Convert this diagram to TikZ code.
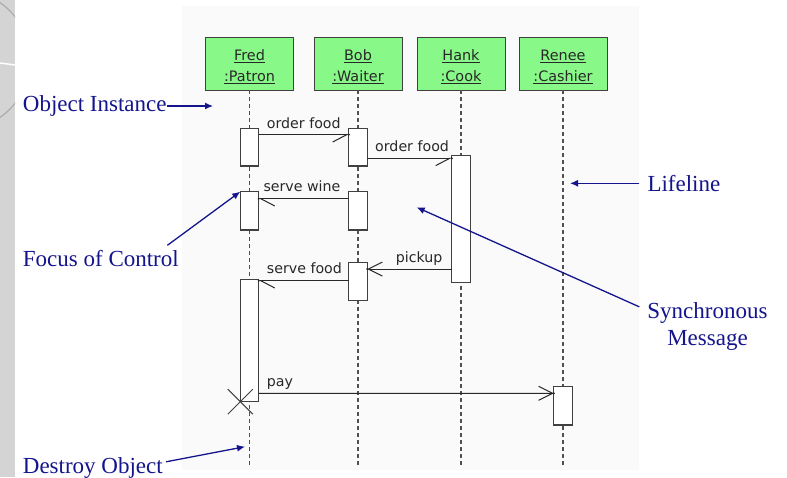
\documentclass[tikz,border=0pt]{standalone}
\usepackage{fontspec}
\setmainfont{Liberation Serif}
\newfontfamily\dv{DejaVu Sans}
\usetikzlibrary{arrows.meta}
\definecolor{navy}{RGB}{20,20,140}
\definecolor{objgreen}{RGB}{136,248,136}
\definecolor{edgec}{RGB}{64,64,64}
\definecolor{lifec}{RGB}{80,80,80}
\definecolor{panelc}{RGB}{250,250,250}
\definecolor{stripc}{RGB}{212,212,212}
\definecolor{ink}{RGB}{40,40,40}
\begin{document}
\begin{tikzpicture}[x=1pt,y=-1pt,
  objbox/.style={draw=edgec, fill=objgreen, line width=1pt, minimum width=88pt, minimum height=52.7pt, inner sep=0pt, outer sep=0pt},
  objtxt/.style={font=\dv\fontsize{14.4}{17}\selectfont, text=ink, anchor=base, inner sep=0pt},
  msgtxt/.style={font=\dv\fontsize{14.2}{17}\selectfont, text=ink, anchor=base west, inner sep=0pt},
  act/.style={draw=edgec, fill=white, line width=1.1pt, minimum width=18.5pt, inner sep=0pt, outer sep=0pt},
  life/.style={draw=lifec, line width=1.2pt, dash pattern=on 4pt off 3pt},
  msg/.style={draw=ink, line width=1pt},
  syncR/.style={msg, -{Straight Barb[harpoon,swap,length=14pt,width=14.6pt,line width=1pt]}},
  syncL/.style={msg, -{Straight Barb[harpoon,length=14pt,width=14.6pt,line width=1pt]}},
  asyn/.style={msg, -{Straight Barb[length=14pt,width=14pt,line width=1pt]}},
  callout/.style={font=\fontsize{23}{27}\selectfont, text=navy, inner sep=0pt},
  call/.style={draw=navy, line width=1.3pt, -{Latex[length=8pt,width=7pt]}}
]
\useasboundingbox (0,0) rectangle (787,477);
% slide decoration
\fill[stripc] (0,0) rectangle (15,477);
\begin{scope}
  \clip (0,0) rectangle (15,477);
  \draw[gray!65, line width=1.2pt] (-40,60) circle (70pt);
  \draw[white, line width=1.5pt] (0,63) -- (15,65);
\end{scope}
% diagram panel
\fill[panelc] (181.5,5.5) rectangle (639,470);

% object boxes
\node[objbox] (fred)  at (249.5,63.7) {};
\node[objbox] (bob)   at (358,63.7) {};
\node[objbox] (hank)  at (461,63.7) {};
\node[objbox] (renee) at (563,63.7) {};
\node[objtxt] (fred1)  at (249.5,60.7) {\underline{Fred}};
\node[objtxt] (fred2)  at (249.5,81.7) {\underline{:Patron}};
\node[objtxt] (bob1)   at (358,60.7) {\underline{Bob}};
\node[objtxt] (bob2)   at (358,81.7) {\underline{:Waiter}};
\node[objtxt] (hank1)  at (461,60.7) {\underline{Hank}};
\node[objtxt] (hank2)  at (461,81.7) {\underline{:Cook}};
\node[objtxt] (renee1) at (563,60.7) {\underline{Renee}};
\node[objtxt] (renee2) at (563,81.7) {\underline{:Cashier}};

% lifelines
\coordinate (fredend)  at (249.5,468);
\coordinate (bobend)   at (358,468);
\coordinate (hankend)  at (461,468);
\coordinate (reneeend) at (563,468);
\draw[life] (fred.south) -- (fredend);
\draw[life] (bob.south) -- (bobend);
\draw[life] (hank.south) -- (hankend);
\draw[life] (renee.south) -- (reneeend);

% activations
\node[act, minimum height=37.7pt]  (F1) at (249.5,147.15) {};
\node[act, minimum height=37.7pt]  (B1) at (358,147.15) {};
\node[act, minimum height=127pt]   (H1) at (461,219.2) {};
\node[act, minimum height=38.3pt]  (F2) at (249.5,210.85) {};
\node[act, minimum height=38.3pt]  (B2) at (358,210.85) {};
\node[act, minimum height=38pt]    (B3) at (358,281.3) {};
\node[act, minimum height=122.4pt] (F3) at (249.5,340.5) {};
\node[act, minimum height=38.3pt]  (R1) at (563,405.85) {};

% messages
\draw[syncR] ([yshift=-6.4pt]F1.north east) -- ([yshift=-6.4pt]B1.north west);
\fill[ink] ([yshift=-6.4pt]B1.north west) circle (1.2pt);
\node[msgtxt] (t1) at (266.7,128.3) {order food};

\draw[syncR] ([yshift=-30pt]B1.north east) -- ([yshift=-2.6pt]H1.north west);
\fill[ink] ([yshift=-2.6pt]H1.north west) circle (1.2pt);
\node[msgtxt] (t2) at (375,151.7) {order food};

\draw[syncL] ([yshift=-7pt]B2.north west) -- ([yshift=-7pt]F2.north east);
\fill[ink] ([yshift=-7pt]F2.north east) circle (1.2pt);
\node[msgtxt] (t3) at (263.3,191.7) {serve wine};

\draw[asyn] ([yshift=-113.3pt]H1.north west) -- ([yshift=-6.7pt]B3.north east);
\fill[ink] ([yshift=-6.7pt]B3.north east) circle (1.2pt);
\node[msgtxt] (t4) at (395.7,262.7) {pickup};

\draw[syncL] ([yshift=-18.4pt]B3.north west) -- ([yshift=-1.4pt]F3.north east);
\fill[ink] ([yshift=-1.4pt]F3.north east) circle (1.2pt);
\node[msgtxt] (t5) at (266.7,273.3) {serve food};

\draw[asyn] ([yshift=-114pt]F3.north east) -- ([yshift=-6.6pt]R1.north west);
\fill[ink] ([yshift=-6.6pt]R1.north west) circle (1.2pt);
\node[msgtxt] (t6) at (266.7,386.7) {pay};

% destroy mark
\draw[edgec, line width=1pt] ([shift={(-12.5pt,12.5pt)}]F3.south west) -- ([shift={(12.5pt,-12.5pt)}]F3.south west);
\draw[edgec, line width=1pt] ([shift={(-12.5pt,-12.5pt)}]F3.south west) -- ([shift={(12.5pt,12.5pt)}]F3.south west);

% callouts
\node[callout, anchor=west] (objinst) at (22.7,106) {Object Instance};
\coordinate (objtip) at (213,106);
\draw[call] (objinst.east) -- (objtip);

\node[callout, anchor=base west] (focus) at (22.7,266) {Focus of Control};
\draw[call] ([shift={(-11.6pt,4.3pt)}]focus.north east) -- (F2.north west);

\node[callout, anchor=west] (lifel) at (647.3,183.3) {Lifeline};
\coordinate (lifetip) at (570,183.3);
\draw[call] ([xshift=-8pt]lifel.west) -- (lifetip);

\node[callout, anchor=base] (sync1) at (707.5,318.3) {Synchronous};
\node[callout, anchor=base] (sync2) at (707.5,345) {Message};
\coordinate (synctip) at (416.7,207.3);
\draw[call] ([shift={(-8pt,6pt)}]sync1.west) -- (synctip);

\node[callout, anchor=base west] (destroy) at (22.7,473.3) {Destroy Object};
\coordinate (destip) at (245,446.7);
\draw[call] ([shift={(3pt,6pt)}]destroy.east) -- (destip);
\end{tikzpicture}
\end{document}
